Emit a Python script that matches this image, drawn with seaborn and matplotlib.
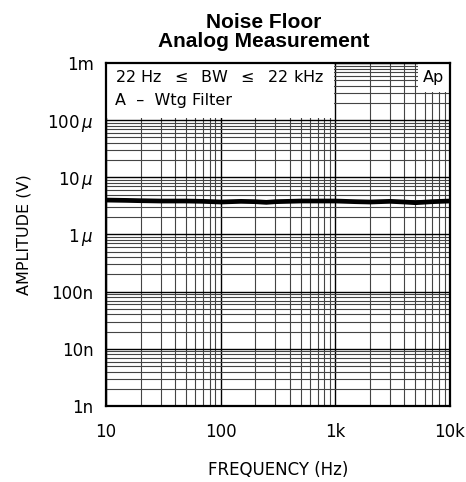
import pandas as pd
import matplotlib.pyplot as plt
import seaborn as sns
from matplotlib.patches import Rectangle
from matplotlib.ticker import LogLocator, FixedLocator, FixedFormatter, NullFormatter

# noise floor reading (volts)
freq_hz = [10, 15, 20, 30, 50, 70, 100, 150, 200, 250, 300, 500, 700, 1000,
           1500, 2000, 3000, 4000, 5000, 7000, 10000]
amp_v = [4.0e-6, 3.95e-6, 3.9e-6, 3.85e-6, 3.85e-6, 3.8e-6, 3.7e-6, 3.8e-6,
         3.75e-6, 3.65e-6, 3.75e-6, 3.85e-6, 3.85e-6, 3.85e-6, 3.75e-6,
         3.7e-6, 3.8e-6, 3.7e-6, 3.6e-6, 3.75e-6, 3.85e-6]

y_ticks = [1e-9, 1e-8, 1e-7, 1e-6, 1e-5, 1e-4, 1e-3]
y_labels = ['1n', '10n', '100n', r'1$\,\mu$', r'10$\,\mu$', r'100$\,\mu$', '1m']
x_ticks = [10, 100, 1000, 10000]
x_labels = ['10', '100', '1k', '10k']

sns.set_style('white', rc={'text.color': 'black', 'axes.labelcolor': 'black',
                           'xtick.color': 'black', 'ytick.color': 'black'})
plt.rcParams['font.family'] = ['DejaVu Sans']
plt.rcParams['mathtext.fontset'] = 'dejavusans'

df = pd.DataFrame({'freq': freq_hz, 'amp': amp_v})

fig = plt.figure(figsize=(4.66, 4.82), dpi=100)
ax = fig.add_axes([0.2275, 0.1577, 0.7382, 0.7116])

sns.lineplot(data=df, x='freq', y='amp', ax=ax, color='black', linewidth=3.4, zorder=3)

ax.set_xscale('log')
ax.set_yscale('log')
ax.set_xlim(10, 10000)
ax.set_ylim(1e-9, 1e-3)

ax.xaxis.set_major_locator(FixedLocator(x_ticks))
ax.xaxis.set_major_formatter(FixedFormatter(x_labels))
ax.yaxis.set_major_locator(FixedLocator(y_ticks))
ax.yaxis.set_major_formatter(FixedFormatter(y_labels))
ax.xaxis.set_minor_locator(LogLocator(base=10, subs=range(2, 10), numticks=20))
ax.yaxis.set_minor_locator(LogLocator(base=10, subs=range(2, 10), numticks=20))
ax.xaxis.set_minor_formatter(NullFormatter())
ax.yaxis.set_minor_formatter(NullFormatter())

ax.set_axisbelow(True)
ax.grid(which='major', color='black', linewidth=1.0)
ax.grid(which='minor', color='#444444', linewidth=0.8)
ax.tick_params(which='both', length=0)
ax.tick_params(axis='x', pad=12, labelsize=12)
ax.tick_params(axis='y', pad=9, labelsize=12)

for s in ax.spines.values():
    s.set_color('black')
    s.set_linewidth(1.6)

ax.set_xlabel('FREQUENCY (Hz)', fontsize=12, labelpad=15)
ax.set_ylabel('AMPLITUDE (V)', fontsize=11.5, labelpad=11)

# white legend panels that blank out the grid
ax.add_patch(Rectangle((0, 0.840), 0.662, 0.16, transform=ax.transAxes,
                       facecolor='white', edgecolor='none', zorder=2))
ax.add_patch(Rectangle((0.9055, 0.9155), 0.0945, 0.0845, transform=ax.transAxes,
                       facecolor='white', edgecolor='none', zorder=2))
ax.text(0.026, 0.959, r'22 Hz  $\leq$  BW  $\leq$  22 kHz', transform=ax.transAxes,
        fontsize=11.5, va='center', ha='left', zorder=4)
ax.text(0.026, 0.892, 'A  \u2013  Wtg Filter', transform=ax.transAxes,
        fontsize=11.5, va='center', ha='left', zorder=4)
ax.text(0.952, 0.959, 'Ap', transform=ax.transAxes,
        fontsize=11.5, va='center', ha='center', zorder=4)

fig.suptitle('Noise Floor\nAnalog Measurement', x=0.5665, y=0.972,
             fontsize=15, fontweight='bold', family='Liberation Sans', linespacing=0.98)

fig.savefig('out.png', dpi=100)
